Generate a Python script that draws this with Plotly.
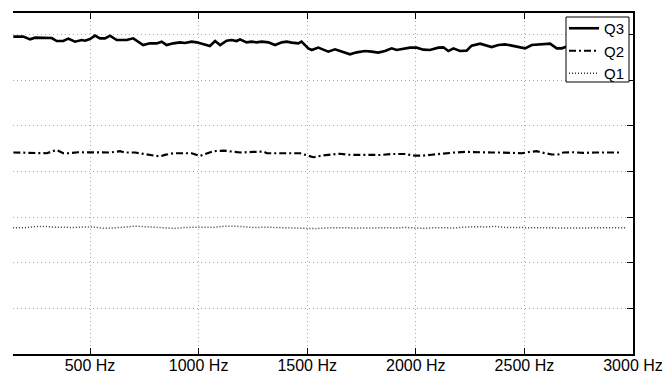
import plotly.graph_objects as go

# ---- data ----
q3_freq = [147, 193, 224, 247, 324, 347, 377, 400, 431, 462, 477, 500, 523, 546, 569, 592,
           623, 669, 699, 722, 745, 776, 807, 830, 853, 884, 914, 937, 968, 991, 1022, 1052,
           1076, 1099, 1129, 1152, 1175, 1191, 1221, 1244, 1267, 1291, 1321, 1352, 1383, 1406,
           1429, 1459, 1474, 1505, 1521, 1551, 1574, 1597, 1628, 1659, 1697, 1728, 1766, 1797,
           1827, 1858, 1889, 1912, 1942, 1973, 2004, 2035, 2065, 2104, 2127, 2150, 2173, 2203,
           2234, 2257, 2296, 2319, 2349, 2380, 2411, 2442, 2472, 2503, 2534, 2564, 2595, 2618,
           2649, 2672, 2695, 2730, 2780, 2830, 2880, 2930, 2975]
q3_vals = [6.952, 6.952, 6.893, 6.930, 6.921, 6.856, 6.856, 6.908, 6.842, 6.877, 6.864, 6.899,
           6.974, 6.915, 6.915, 6.974, 6.877, 6.877, 6.915, 6.842, 6.768, 6.805, 6.805, 6.842,
           6.768, 6.805, 6.827, 6.812, 6.842, 6.827, 6.790, 6.746, 6.856, 6.768, 6.864, 6.877,
           6.856, 6.893, 6.827, 6.842, 6.827, 6.842, 6.827, 6.768, 6.827, 6.842, 6.821, 6.805,
           6.842, 6.696, 6.659, 6.711, 6.667, 6.624, 6.674, 6.624, 6.565, 6.608, 6.637, 6.624,
           6.602, 6.637, 6.696, 6.659, 6.680, 6.711, 6.711, 6.667, 6.659, 6.711, 6.718, 6.637,
           6.696, 6.637, 6.646, 6.755, 6.799, 6.768, 6.724, 6.768, 6.783, 6.755, 6.733, 6.696,
           6.768, 6.783, 6.783, 6.799, 6.696, 6.696, 6.733, 6.740, 6.760, 6.750, 6.740, 6.750,
           6.730]

q2_freq = [147, 193, 224, 301, 324, 347, 377, 400, 446, 500, 531, 592, 638, 661, 707, 745,
           776, 822, 845, 884, 945, 968, 1006, 1037, 1068, 1114, 1145, 1191, 1252, 1298, 1314,
           1360, 1421, 1467, 1498, 1528, 1574, 1605, 1651, 1689, 1751, 1797, 1835, 1889, 1950,
           1996, 2027, 2073, 2127, 2180, 2227, 2265, 2303, 2349, 2395, 2457, 2488, 2526, 2557,
           2595, 2626, 2656, 2679, 2725, 2771, 2825, 2871, 2917, 2948]
q2_vals = [4.414, 4.414, 4.398, 4.398, 4.435, 4.470, 4.398, 4.398, 4.420, 4.414, 4.420, 4.414,
           4.442, 4.414, 4.414, 4.383, 4.370, 4.326, 4.361, 4.398, 4.398, 4.398, 4.339, 4.398,
           4.442, 4.457, 4.435, 4.414, 4.427, 4.435, 4.398, 4.398, 4.414, 4.398, 4.354, 4.311,
           4.350, 4.365, 4.387, 4.365, 4.365, 4.365, 4.359, 4.381, 4.381, 4.344, 4.344, 4.365,
           4.398, 4.414, 4.427, 4.420, 4.414, 4.414, 4.414, 4.414, 4.398, 4.427, 4.442, 4.398,
           4.370, 4.370, 4.414, 4.420, 4.405, 4.414, 4.414, 4.414, 4.414]

q1_freq = [145, 201, 247, 293, 339, 385, 431, 477, 523, 569, 615, 661, 707, 753, 799, 845,
           891, 937, 983, 1029, 1076, 1122, 1168, 1214, 1260, 1306, 1352, 1398, 1444, 1490,
           1536, 1582, 1628, 1674, 1720, 1766, 1812, 1858, 1904, 1950, 1996, 2042, 2088, 2134,
           2180, 2227, 2273, 2319, 2365, 2411, 2457, 2503, 2549, 2595, 2641, 2687, 2733, 2779,
           2825, 2871, 2917, 2972]
q1_vals = [2.768, 2.768, 2.790, 2.794, 2.779, 2.772, 2.772, 2.783, 2.779, 2.751, 2.761, 2.779,
           2.801, 2.790, 2.768, 2.761, 2.751, 2.772, 2.768, 2.779, 2.779, 2.801, 2.801, 2.783,
           2.768, 2.779, 2.772, 2.779, 2.768, 2.751, 2.746, 2.761, 2.768, 2.768, 2.757, 2.751,
           2.761, 2.768, 2.761, 2.772, 2.768, 2.751, 2.768, 2.757, 2.761, 2.779, 2.790, 2.783,
           2.794, 2.772, 2.768, 2.779, 2.772, 2.757, 2.751, 2.761, 2.761, 2.761, 2.768, 2.768,
           2.768, 2.768]

x_ticks = [500, 1000, 1500, 2000, 2500, 3000]
x_tick_labels = ["500 Hz", "1000 Hz", "1500 Hz", "2000 Hz", "2500 Hz", "3000 Hz"]
y_ticks = [0, 1, 2, 3, 4, 5, 6, 7]

FONT = "Liberation Sans, Arial, Helvetica, sans-serif"

W, H = 667, 376
ML, MR, MT, MB = 13, 34, 13, 22
PW, PH = W - ML - MR, H - MT - MB


def px_x(p):
    return (p - ML) / PW


def px_y(p):
    return 1 - (p - MT) / PH


fig = go.Figure()
fig.add_trace(go.Scatter(x=q3_freq, y=q3_vals, mode="lines", name="Q3",
                         line=dict(color="black", width=2.6)))
fig.add_trace(go.Scatter(x=q2_freq, y=q2_vals, mode="lines", name="Q2",
                         line=dict(color="black", width=2.2, dash="7px,3px,2px,3px")))
fig.add_trace(go.Scatter(x=q1_freq, y=q1_vals, mode="lines", name="Q1",
                         line=dict(color="#333333", width=1.5, dash="1px,2px")))

# legend frame (white box hiding the lines behind it)
fig.add_shape(type="rect", xref="paper", yref="paper",
              x0=px_x(566), x1=px_x(629), y0=px_y(82), y1=px_y(17),
              line=dict(color="black", width=1), fillcolor="white", layer="above")

fig.update_layout(
    width=W, height=H,
    margin=dict(l=ML, r=MR, t=MT, b=MB),
    paper_bgcolor="white", plot_bgcolor="white",
    font=dict(family=FONT, size=15, color="black"),
    showlegend=True,
    legend=dict(x=px_x(564), y=px_y(12), xanchor="left", yanchor="top",
                bgcolor="rgba(0,0,0,0)", borderwidth=0,
                font=dict(family=FONT, size=15, color="black"),
                tracegroupgap=0, itemwidth=30),
    xaxis=dict(range=[145.5, 3000], tickvals=x_ticks, ticktext=x_tick_labels,
               automargin=False, ticklabelstandoff=-4,
               showline=True, linecolor="black", linewidth=1.5, mirror="ticks",
               ticks="inside", ticklen=6, tickcolor="black",
               showgrid=True, gridcolor="#aaaaaa", gridwidth=1, griddash="1px,3px",
               zeroline=False, tickfont=dict(family=FONT, size=16)),
    yaxis=dict(range=[0, 7.47], tickvals=y_ticks, showticklabels=False,
               automargin=False,
               side="right", showline=True, linecolor="black", linewidth=1.5, mirror=False,
               ticks="inside", ticklen=6, tickcolor="black",
               showgrid=True, gridcolor="#aaaaaa", gridwidth=1, griddash="1px,3px",
               zeroline=False),
)

fig.write_html("out.html")
